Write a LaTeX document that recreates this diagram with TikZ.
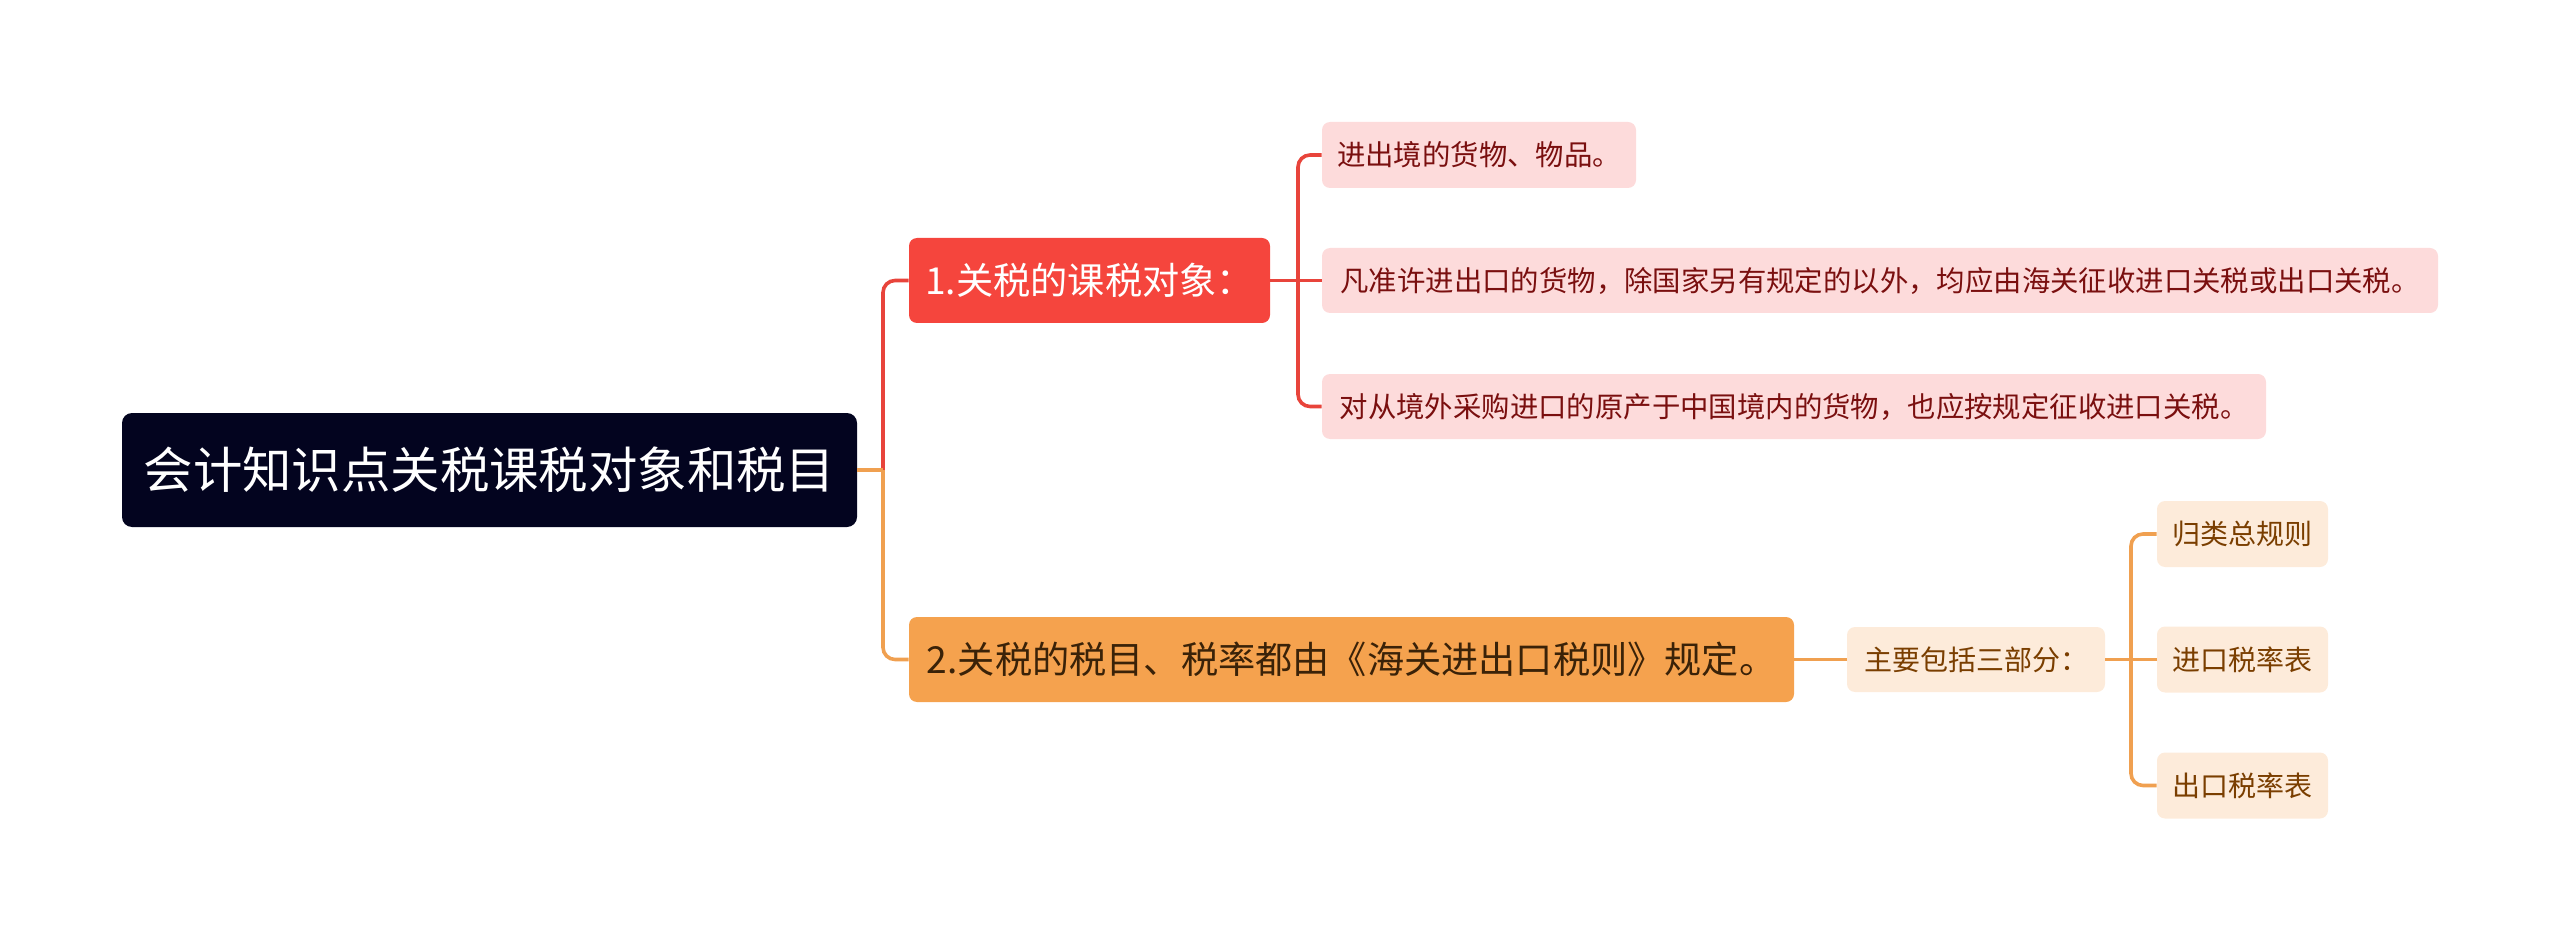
\documentclass[tikz,border=0pt]{standalone}
\usepackage{fontspec}
\setmainfont{Noto Sans CJK SC}
\definecolor{rootfill}{HTML}{03041F}
\definecolor{redfill}{HTML}{F5453D}
\definecolor{orangefill}{HTML}{F5A24E}
\definecolor{pinkfill}{HTML}{FDDBDB}
\definecolor{creamfill}{HTML}{FDEBDA}
\definecolor{redline}{HTML}{E8443B}
\definecolor{orangeline}{HTML}{F0A050}
\definecolor{pinktext}{HTML}{7A0F0F}
\definecolor{creamtext}{HTML}{7A3E00}
\definecolor{b2text}{HTML}{3A2208}
\tikzset{
  box/.style={rectangle, inner sep=0pt, align=center},
  rootbox/.style={box, fill=rootfill, text=white, rounded corners=5pt, font=\fontsize{24.7pt}{30pt}\selectfont},
  redbox/.style={box, fill=redfill, text=white, rounded corners=4pt, font=\fontsize{18.6pt}{22pt}\selectfont},
  orangebox/.style={box, fill=orangefill, text=b2text, rounded corners=4pt, font=\fontsize{18.6pt}{22pt}\selectfont},
  pinkbox/.style={box, fill=pinkfill, text=pinktext, rounded corners=4pt, font=\fontsize{14.2pt}{17pt}\selectfont},
  creambox/.style={box, fill=creamfill, text=creamtext, rounded corners=4pt, font=\fontsize{14pt}{17pt}\selectfont},
  redconn/.style={draw=redline, line width=1.8pt, rounded corners=6pt},
  orangeconn/.style={draw=orangeline, line width=1.8pt, rounded corners=6pt},
}
\begin{document}
\begin{tikzpicture}[x=0.5pt, y=-0.5pt]
\useasboundingbox (0,0) rectangle (2560,941);
\node[rootbox, minimum width=367.5pt, minimum height=57pt] (root) at (489.5,470) {会计知识点关税课税对象和税目};
\node[redbox, minimum width=180.5pt, minimum height=42.5pt] (b1) at (1089.5,280.5) {1.关税的课税对象：};
\node[orangebox, minimum width=442.5pt, minimum height=42.5pt] (b2) at (1351.5,659.5) {2.关税的税目、税率都由《海关进出口税则》规定。};
\node[pinkbox, minimum width=157pt, minimum height=33pt] (l1) at (1479,155) {进出境的货物、物品。};
\node[pinkbox, minimum width=558pt, minimum height=32.5pt] (l2) at (1880,280.5) {凡准许进出口的货物，除国家另有规定的以外，均应由海关征收进口关税或出口关税。};
\node[pinkbox, minimum width=472pt, minimum height=32.5pt] (l3) at (1794,406.5) {对从境外采购进口的原产于中国境内的货物，也应按规定征收进口关税。};
\node[creambox, minimum width=129pt, minimum height=32.5pt] (s) at (1976,659.5) {主要包括三部分：};
\node[creambox, minimum width=85.5pt, minimum height=33pt] (t1) at (2242.5,534) {归类总规则};
\node[creambox, minimum width=85.5pt, minimum height=33pt] (t2) at (2242.5,659.5) {进口税率表};
\node[creambox, minimum width=85.5pt, minimum height=33pt] (t3) at (2242.5,785.5) {出口税率表};
\coordinate (j0) at (883,470);
\coordinate (j1) at (1298,280.5);
\coordinate (j2) at (2131,659.5);
% root connectors
\draw[redconn] (j0) |- (b1.west);
\draw[orangeconn] (j0) |- (b2.west);
\draw[orangeconn] (root.east) -- (j0);
% branch 1
\draw[redconn] (b1.east) -- (j1);
\draw[redconn] (j1) |- (l1.west);
\draw[redconn] (j1) -- (l2.west);
\draw[redconn] (j1) |- (l3.west);
% branch 2
\draw[orangeconn] (b2.east) -- (s.west);
\draw[orangeconn] (s.east) -- (j2);
\draw[orangeconn] (j2) |- (t1.west);
\draw[orangeconn] (j2) -- (t2.west);
\draw[orangeconn] (j2) |- (t3.west);
\end{tikzpicture}
\end{document}
